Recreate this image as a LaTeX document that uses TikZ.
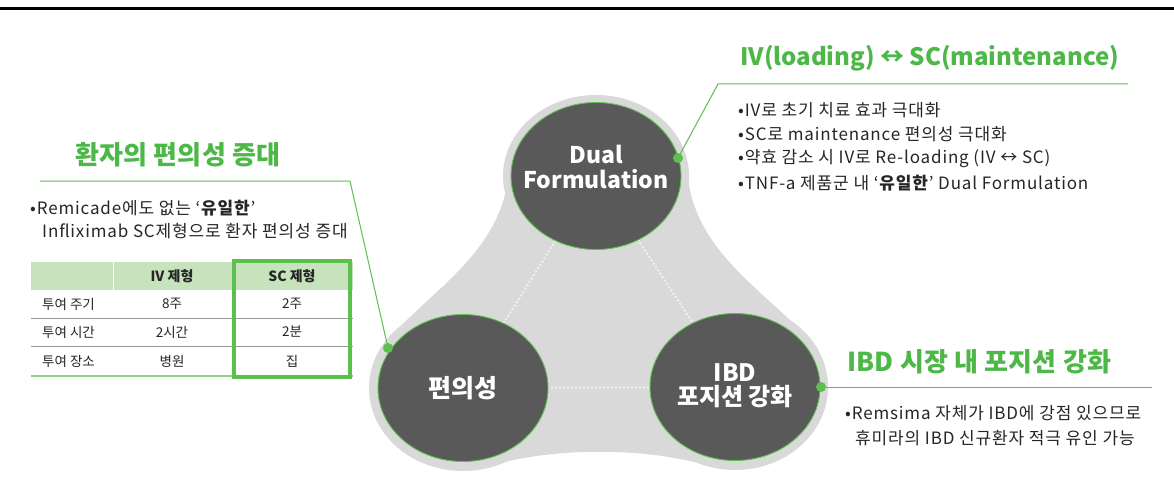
\documentclass[tikz,border=0pt]{standalone}
\usepackage{fontspec}
\setmainfont{Noto Sans CJK KR}
\usetikzlibrary{shapes.geometric}
\definecolor{gtitle}{HTML}{4DB848}
\definecolor{gline}{HTML}{5CBF4E}
\definecolor{darkc}{HTML}{595959}
\definecolor{blob}{HTML}{D9D9D9}
\definecolor{hdr}{HTML}{C6E3BD}
\definecolor{txt}{HTML}{262626}
\tikzset{
  bubble/.style={ellipse, fill=darkc, draw=gline, line width=0.9pt, minimum width=170pt, minimum height=147pt, inner sep=0pt},
  bubtext/.style={text=white, font=\fontsize{23}{27}\selectfont\bfseries, align=center, inner sep=0pt},
  gl/.style={draw=gline, line width=1pt},
  dotc/.style={circle, fill=gline, inner sep=0pt, minimum size=10pt},
  title/.style={text=gtitle, font=\fontsize{26}{28}\selectfont\bfseries\addfontfeatures{LetterSpace=1}, inner sep=0pt, anchor=west},
  bl/.style={text=txt, font=\fontsize{17}{24}\selectfont\addfontfeatures{LetterSpace=5}, inner sep=0pt, anchor=west},
  tb/.style={text=txt, font=\fontsize{13.5}{16}\selectfont, inner sep=0pt},
  tbh/.style={text=txt, font=\fontsize{14}{16}\selectfont\bfseries, inner sep=0pt},
  dots/.style={draw=white, line width=2pt, dotted, opacity=0.6}
}
\begin{document}
\begin{tikzpicture}[x=1pt,y=-1pt]
\useasboundingbox (0,0) rectangle (1174,484);
\fill[white] (0,0) rectangle (1174,484);
\coordinate (tl) at (0,8.5);
\coordinate (tr) at (1174,8.5);
\draw[line width=3.5pt] (tl) -- (tr);
% blob
\fill[blob] (596,176) ellipse [x radius=93, y radius=81];
\fill[blob] (463,388) ellipse [x radius=94, y radius=83];
\fill[blob] (735,387) ellipse [x radius=93, y radius=83];
\fill[blob] (596,176) -- (509,165) .. controls (507,250) and (430,290) .. (385,343) -- (463,388) -- (500,463) .. controls (560,448) and (640,448) .. (698,463) -- (735,387) -- (811,342) .. controls (766,290) and (689,250) .. (687,165) -- cycle;
% dotted links
\coordinate (cd) at (596,176);
\coordinate (cp) at (463,388);
\coordinate (ci) at (735,387);
\draw[dots] (cd) -- (cp);
\draw[dots] (cd) -- (ci);
\draw[dots] (cp) -- (ci);
% circles
\node[bubble] (dual) at (596,176) {};
\node[bubble] (pyeon) at (463,388) {};
\node[bubble] (ibd) at (735,387) {};
\node[bubtext] (dualt) at (596,167) {Dual\\[-2pt]Formulation};
\node[bubtext, font=\fontsize{25}{28}\selectfont\bfseries] (pyeont) at (463,388) {편의성};
\node[bubtext, font=\fontsize{24}{27}\selectfont\bfseries] (ibdt) at (735,386) {IBD\\[-3pt]포지션 강화};
% connectors
\node[dotc] (d1) at (678,158) {};
\node[dotc] (d2) at (388,348) {};
\node[dotc] (d3) at (821,387) {};
\coordinate (k1) at (718,84);
\coordinate (e1) at (1128,84);
\coordinate (k2) at (350,181);
\coordinate (e2) at (40,181);
\coordinate (e3) at (1152,387);
\draw[gl] (d1.center) -- (k1) -- (e1);
\draw[gl] (d2.center) -- (k2) -- (e2);
\draw[gl] (d3.center) -- (e3);
% right top
\node[title, font=\fontsize{24}{28}\selectfont\bfseries] (t1) at (740,58) {IV(loading) ↔ SC(maintenance)};
\node[bl] (b1) at (738,110) {•IV로 초기 치료 효과 극대화};
\node[bl] (b2) at (738,134) {•SC로 maintenance 편의성 극대화};
\node[bl] (b3) at (738,159) {•약효 감소 시 IV로 Re-loading (IV ↔ SC)};
\node[bl] (b4) at (738,183) {•TNF-a 제품군 내 ‘\textbf{유일한}’ Dual Formulation};
% left
\node[title] (t2) at (75,155) {환자의 편의성 증대};
\node[bl] (b5) at (30,208) {•Remicade에도 없는 ‘\textbf{유일한}’};
\node[bl] (b6) at (42,231) {Infliximab SC제형으로 환자 편의성 증대};
% table
\fill[hdr] (31,262) rectangle (353,290);
\draw[white, line width=0.8pt] (113,262) -- (113,290);
\draw[gray!80, line width=0.8pt] (31,318) -- (353,318);
\draw[gray!80, line width=0.8pt] (31,346) -- (353,346);
\draw[gline!70, line width=1.5pt] (31,376) -- (353,376);
\node[tbh] (h2) at (172,276) {IV 제형};
\node[tbh] (h3) at (292,276) {SC 제형};
\node[tb, anchor=west] (r1) at (42,304) {투여 주기};
\node[tb, anchor=west] (r2) at (42,332) {투여 시간};
\node[tb, anchor=west] (r3) at (42,361) {투여 장소};
\node[tb] (a1) at (172,304) {8주};
\node[tb] (a2) at (172,332) {2시간};
\node[tb] (a3) at (172,361) {병원};
\node[tb] (s1) at (292,304) {2주};
\node[tb] (s2) at (292,332) {2분};
\node[tb] (s3) at (292,361) {집};
\draw[gline, line width=3.5pt] (234,261) rectangle (350,377);
% right bottom
\node[title] (t3) at (847,362) {IBD 시장 내 포지션 강화};
\node[bl] (b7) at (845,413) {•Remsima 자체가 IBD에 강점 있으므로};
\node[bl] (b8) at (855,438) {휴미라의 IBD 신규환자 적극 유인 가능};
\end{tikzpicture}
\end{document}
